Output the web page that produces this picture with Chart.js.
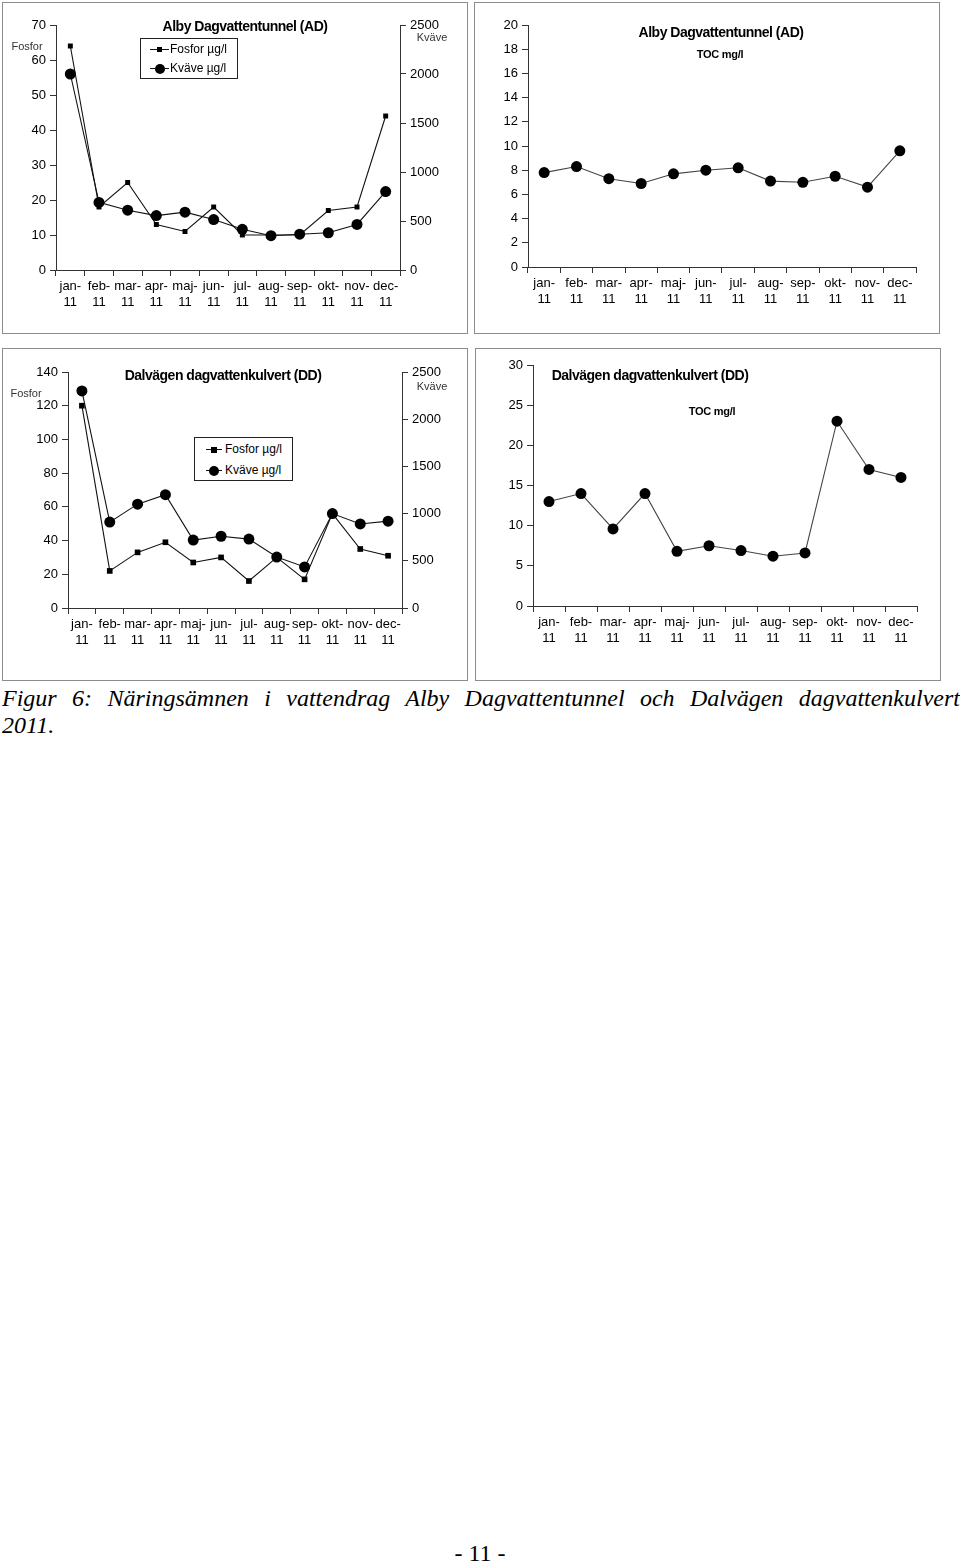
<!DOCTYPE html>
<html>
<head>
<meta charset="utf-8">
<script src="https://cdn.jsdelivr.net/npm/chart.js@4.4.0/dist/chart.umd.min.js"></script>
<style>
  body {
    margin: 0;
    width: 960px;
    height: 1564px;
    position: relative;
    overflow: hidden;
    background: #fff;
    font-family: "Liberation Sans", Arial, sans-serif;
  }
  .box { position: absolute; border: 1px solid #8c8c8c; background: #fff; }
  .box canvas { display: block; }
  .lbl { position: absolute; white-space: nowrap; transform: translate(-50%, -50%); color: #000; line-height: 1; }
  .title { font-weight: bold; font-size: 14px; letter-spacing: -0.5px; }
  .sub { font-weight: bold; font-size: 11px; letter-spacing: -0.3px; }
  .axt { font-size: 11px; color: #333; }
  .legend { position: absolute; border: 1px solid #222; background: #fff; }
  .legend .row { position: absolute; left: 0; height: 14px; font-size: 12px; line-height: 14px; white-space: nowrap; }
  .legend .ln { position: absolute; top: 7px; height: 1px; background: #111; }
  .legend .mk { position: absolute; background: #000; }
  #caption {
    position: absolute; left: 2px; top: 685px; width: 958px;
    font-family: "Liberation Serif", "Times New Roman", serif;
    font-style: italic; font-size: 24px; line-height: 27px; color: #000;
  }
  #caption .l1 { text-align: justify; text-align-last: justify; }
  #page {
    position: absolute; left: 0; top: 1540px; width: 960px; text-align: center;
    font-family: "Liberation Serif", "Times New Roman", serif; font-size: 24px; line-height: 26px;
  }
</style>
</head>
<body>
<div id="caption"><div class="l1">Figur 6: Näringsämnen i vattendrag Alby Dagvattentunnel och Dalvägen dagvattenkulvert</div><div>2011.</div></div>
<div id="page">- 11 -</div>
<script>
// data
const months = [["jan-", "11"], ["feb-", "11"], ["mar-", "11"], ["apr-", "11"], ["maj-", "11"], ["jun-", "11"],
  ["jul-", "11"], ["aug-", "11"], ["sep-", "11"], ["okt-", "11"], ["nov-", "11"], ["dec-", "11"]];

const adFosfor = [64, 18, 25, 13, 11, 18, 10, 10, 10, 17, 18, 44];
const adKvave = [2000, 690, 610, 555, 590, 515, 415, 350, 365, 380, 465, 800];
const adToc = [7.8, 8.3, 7.3, 6.9, 7.7, 8.0, 8.2, 7.1, 7.0, 7.5, 6.6, 9.6];

const ddFosfor = [120, 22, 33, 39, 27, 30, 16, 30, 17, 56, 35, 31];
const ddKvave = [2300, 910, 1100, 1200, 720, 760, 730, 540, 435, 1000, 890, 920];
const ddToc = [13, 14, 9.6, 14, 6.8, 7.5, 6.9, 6.2, 6.6, 23, 17, 16];

// axis ranges [min, max, step]
const adFosforAxis = [0, 70, 10];
const ddFosforAxis = [0, 140, 20];
const kvaveAxis = [0, 2500, 500];
const adTocAxis = [0, 20, 2];
const ddTocAxis = [0, 30, 5];

const Y_W = 40;
const Y2_W = 44;
const X_H = 40;
const AXIS_COLOR = "#333";
const FONT = { family: "'Liberation Sans', Arial, sans-serif", size: 13 };

function yScale(pos, range, width) {
  return {
    type: "linear",
    position: pos,
    min: range[0],
    max: range[1],
    ticks: {
      stepSize: range[2], padding: 4, color: "#000", font: FONT,
      format: { useGrouping: false },
    },
    grid: { drawOnChartArea: false, tickLength: 6, color: AXIS_COLOR },
    border: { color: AXIS_COLOR },
    afterFit: (s) => { s.width = width; },
  };
}

function makeChart(p) {
  const box = document.createElement("div");
  box.className = "box";
  box.style.left = p.box[0] + "px";
  box.style.top = p.box[1] + "px";
  const w = p.box[2] - 2;
  const h = p.box[3] - 2;
  const canvas = document.createElement("canvas");
  canvas.width = w;
  canvas.height = h;
  canvas.style.width = w + "px";
  canvas.style.height = h + "px";
  box.appendChild(canvas);
  document.body.appendChild(box);

  // padding so the plot area lands where it is in the figure
  const x0 = p.box[0] + 1;
  const y0 = p.box[1] + 1;
  const padding = {
    left: p.area[0] - x0 - Y_W,
    right: x0 + w - p.area[1] - (p.right ? Y2_W : 0),
    top: p.area[2] - y0,
    bottom: y0 + h - p.area[3] - X_H,
  };

  const scales = {
    x: {
      type: "category",
      offset: true,
      grid: { offset: true, drawOnChartArea: false, tickLength: 6, color: AXIS_COLOR },
      border: { color: AXIS_COLOR },
      ticks: { autoSkip: false, maxRotation: 0, minRotation: 0, padding: 3, color: "#000", font: FONT },
      afterFit: (s) => { s.height = X_H; },
    },
    y: yScale("left", p.left, Y_W),
  };
  if (p.right) scales.y2 = yScale("right", p.right, Y2_W);

  return new Chart(canvas, {
    type: "line",
    data: { labels: months, datasets: p.datasets },
    options: {
      responsive: false,
      animation: false,
      devicePixelRatio: 1,
      layout: { padding: padding },
      scales: scales,
      plugins: { legend: { display: false }, tooltip: { enabled: false } },
    },
  });
}

function fosforSet(data, r) {
  return {
    label: "Fosfor µg/l", data: data, yAxisID: "y", order: 1,
    borderColor: "#111", borderWidth: 1.1, tension: 0,
    pointStyle: "rect", pointRadius: r, pointBackgroundColor: "#000", pointBorderColor: "#000", pointBorderWidth: 0,
  };
}

function kvaveSet(data, r) {
  return {
    label: "Kväve µg/l", data: data, yAxisID: "y2", order: 0,
    borderColor: "#111", borderWidth: 1.1, tension: 0,
    pointStyle: "circle", pointRadius: r, pointBackgroundColor: "#000", pointBorderColor: "#000", pointBorderWidth: 0,
  };
}

function tocSet(data) {
  return {
    label: "TOC mg/l", data: data, yAxisID: "y",
    borderColor: "#444", borderWidth: 1.1, tension: 0,
    pointStyle: "circle", pointRadius: 5.5, pointBackgroundColor: "#000", pointBorderColor: "#000", pointBorderWidth: 0,
  };
}

function label(text, cx, cy, cls) {
  const d = document.createElement("div");
  d.className = "lbl " + cls;
  d.style.left = cx + "px";
  d.style.top = cy + "px";
  d.textContent = text;
  document.body.appendChild(d);
}

function legend(x, y, w, h, rows) {
  const lg = document.createElement("div");
  lg.className = "legend";
  lg.style.left = x + "px";
  lg.style.top = y + "px";
  lg.style.width = w + "px";
  lg.style.height = h + "px";
  rows.forEach((r) => {
    const row = document.createElement("div");
    row.className = "row";
    row.style.top = r.top + "px";
    const ln = document.createElement("div");
    ln.className = "ln";
    ln.style.left = r.lineX + "px";
    ln.style.width = r.lineW + "px";
    row.appendChild(ln);
    const mk = document.createElement("div");
    mk.className = "mk";
    mk.style.width = r.size + "px";
    mk.style.height = r.size + "px";
    mk.style.left = r.lineX + r.lineW / 2 - r.size / 2 + "px";
    mk.style.top = 7.5 - r.size / 2 + "px";
    if (r.circle) mk.style.borderRadius = "50%";
    row.appendChild(mk);
    const t = document.createElement("span");
    t.style.position = "absolute";
    t.style.left = r.textX + "px";
    t.textContent = r.text;
    row.appendChild(t);
    lg.appendChild(row);
  });
  document.body.appendChild(lg);
}

// Alby, fosfor + kväve
makeChart({
  box: [2, 2, 466, 332], area: [56, 400, 25, 270],
  left: adFosforAxis, right: kvaveAxis,
  datasets: [fosforSet(adFosfor, 3.5), kvaveSet(adKvave, 5.5)],
});
label("Alby Dagvattentunnel (AD)", 245, 26, "title");
label("Fosfor", 27, 46, "axt");
label("Kväve", 432, 37, "axt");
legend(140, 38, 96, 39, [
  { top: 3, lineX: 9, lineW: 19, size: 5, circle: false, textX: 29, text: "Fosfor µg/l" },
  { top: 22, lineX: 9, lineW: 19, size: 10, circle: true, textX: 29, text: "Kväve µg/l" },
]);

// Alby, TOC
makeChart({
  box: [474, 2, 466, 332], area: [528, 916, 25, 267],
  left: adTocAxis,
  datasets: [tocSet(adToc)],
});
label("Alby Dagvattentunnel (AD)", 721, 32, "title");
label("TOC mg/l", 720, 54, "sub");

// Dalvägen, fosfor + kväve
makeChart({
  box: [2, 348, 466, 333], area: [68, 402, 372, 608],
  left: ddFosforAxis, right: kvaveAxis,
  datasets: [fosforSet(ddFosfor, 4), kvaveSet(ddKvave, 5.5)],
});
label("Dalvägen dagvattenkulvert (DD)", 223, 375, "title");
label("Fosfor", 26, 393, "axt");
label("Kväve", 432, 386, "axt");
legend(194, 437, 97, 42, [
  { top: 4, lineX: 11, lineW: 16, size: 6, circle: false, textX: 30, text: "Fosfor µg/l" },
  { top: 25, lineX: 11, lineW: 16, size: 10, circle: true, textX: 30, text: "Kväve µg/l" },
]);

// Dalvägen, TOC
makeChart({
  box: [475, 348, 466, 333], area: [533, 917, 365, 606],
  left: ddTocAxis,
  datasets: [tocSet(ddToc)],
});
label("Dalvägen dagvattenkulvert (DD)", 650, 375, "title");
label("TOC mg/l", 712, 411, "sub");
</script>
</body>
</html>
